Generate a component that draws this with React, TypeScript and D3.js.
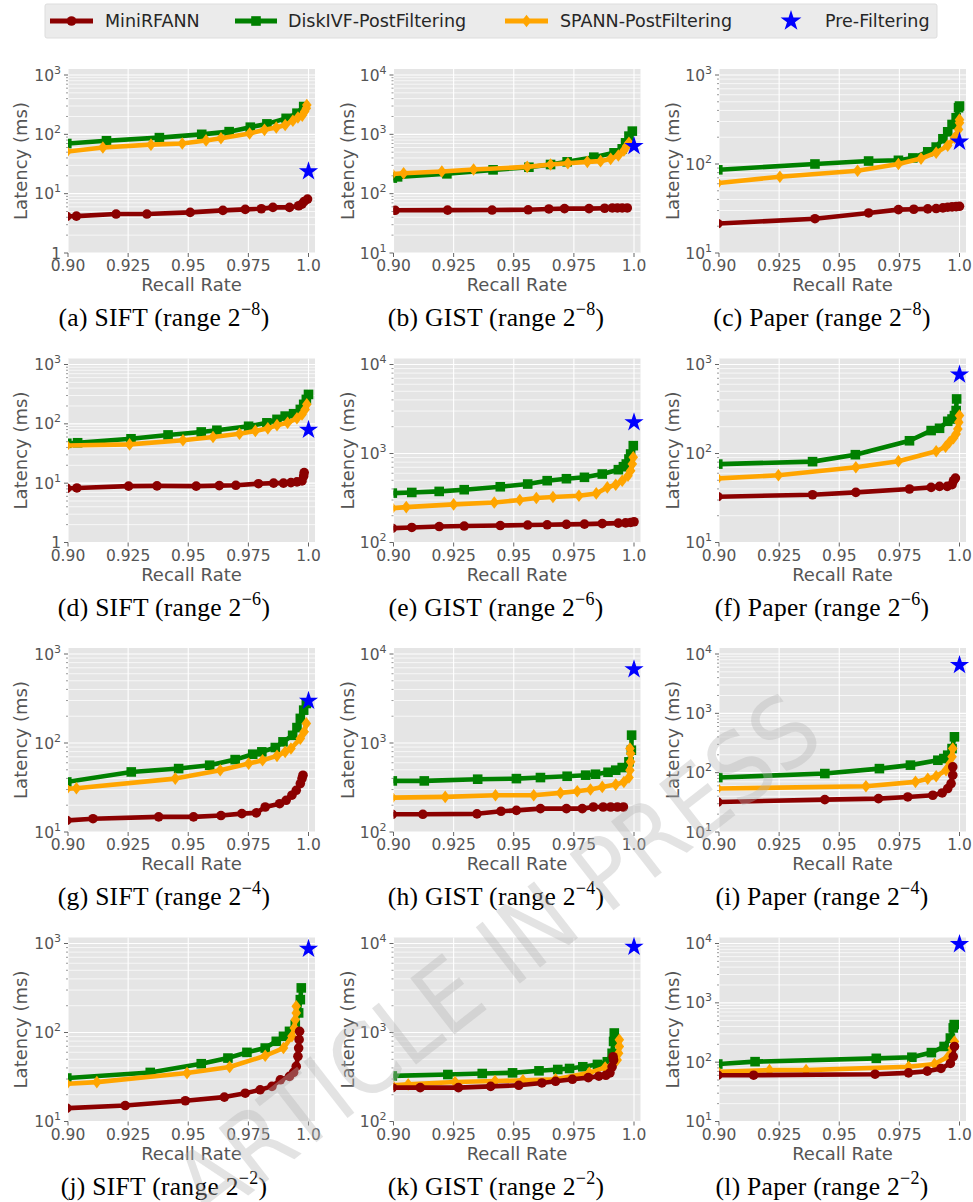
import React from "react";
import * as d3 from "d3";

type Pt = [number, number]; // [recall, latency ms]

// ---- (a) SIFT range 2^-8
const siftR8Mini: Pt[] = [[0.8995, 4.15], [0.9035, 4.19], [0.92, 4.53], [0.9328, 4.53], [0.9508, 4.83], [0.9644, 5.22], [0.9737, 5.43], [0.9804, 5.57], [0.9852, 5.87], [0.9921, 5.87], [0.9959, 6.26], [0.9973, 6.67], [0.9982, 7.4], [0.9996, 8.1]];
const siftR8Disk: Pt[] = [[0.8995, 70], [0.916, 78], [0.938, 88], [0.9556, 100], [0.967, 111], [0.9758, 132], [0.9827, 150], [0.9907, 186], [0.9952, 227], [0.998, 294]];
const siftR8Spann: Pt[] = [[0.8995, 51], [0.9145, 60], [0.9345, 67], [0.9475, 70], [0.9574, 79], [0.9636, 86], [0.9755, 103], [0.9817, 119], [0.9866, 130], [0.9903, 144], [0.9935, 169], [0.9956, 192], [0.9974, 207], [0.9984, 242], [0.9991, 275], [0.9993, 313]];
// ---- (b) GIST range 2^-8
const gistR8Mini: Pt[] = [[0.8995, 52.5], [0.9007, 52.5], [0.9225, 52.8], [0.941, 53], [0.956, 53.5], [0.9646, 55.3], [0.9711, 56], [0.9813, 56], [0.9878, 56.8], [0.991, 57.5], [0.9931, 57.5], [0.9951, 57.5], [0.9972, 57.5]];
const gistR8Disk: Pt[] = [[0.8995, 183], [0.9017, 192], [0.9222, 216], [0.9414, 252], [0.9563, 279], [0.9653, 310], [0.9722, 344], [0.9833, 412], [0.9917, 488], [0.9951, 570], [0.9965, 719], [0.9979, 933], [0.9993, 1132]];
const gistR8Spann: Pt[] = [[0.8995, 214], [0.9042, 221], [0.9201, 236], [0.9333, 255], [0.9556, 283], [0.9653, 310], [0.9725, 326], [0.9806, 344], [0.9861, 353], [0.9903, 386], [0.9935, 440], [0.9958, 534], [0.9969, 631], [0.9979, 719]];
// ---- (c) Paper range 2^-8
const paperR8Mini: Pt[] = [[0.8995, 21.4], [0.9399, 24.3], [0.9622, 28.2], [0.9746, 30.7], [0.981, 31], [0.9868, 31.3], [0.9903, 31.6], [0.9931, 32.1], [0.9951, 32.7], [0.9969, 33], [0.9986, 33.2], [1.0, 33.5]];
const paperR8Disk: Pt[] = [[0.8995, 86], [0.9399, 100], [0.9622, 108], [0.9746, 110], [0.9806, 117], [0.9868, 137], [0.9903, 155], [0.9931, 192], [0.9951, 230], [0.9969, 278], [0.9986, 331], [0.9996, 429], [1.0, 448]];
const paperR8Spann: Pt[] = [[0.8995, 61], [0.9253, 72], [0.9576, 84], [0.9746, 100], [0.984, 115], [0.9903, 134], [0.9951, 161], [0.9979, 197], [0.9996, 244], [1.0, 290], [1.0, 315]];
// ---- (d) SIFT range 2^-6
const siftR6Mini: Pt[] = [[0.8995, 8.2], [0.9037, 8.3], [0.9252, 8.9], [0.937, 9.0], [0.9533, 8.9], [0.9629, 9.1], [0.9698, 9.2], [0.9792, 9.8], [0.9855, 10.0], [0.9896, 10.0], [0.9927, 10.2], [0.9952, 10.5], [0.9973, 10.9], [0.998, 13.2], [0.9982, 15.1]];
const siftR6Disk: Pt[] = [[0.8995, 47], [0.904, 48], [0.9262, 56], [0.9416, 65], [0.9554, 73], [0.9619, 78], [0.9751, 91], [0.9827, 104], [0.9869, 119], [0.9903, 135], [0.9938, 148], [0.9966, 175], [0.998, 213], [0.9991, 258], [1.0, 313]];
const siftR6Spann: Pt[] = [[0.8995, 43], [0.9256, 45], [0.9478, 53], [0.9603, 60], [0.9713, 68], [0.9779, 76], [0.9831, 84], [0.9869, 95], [0.9913, 104], [0.9952, 124], [0.9973, 144], [0.9986, 175], [0.9993, 213]];
// ---- (e) GIST range 2^-6
const gistR6Mini: Pt[] = [[0.8995, 145], [0.9076, 147.5], [0.919, 151], [0.9294, 153], [0.9444, 155], [0.9558, 157], [0.9639, 158], [0.9719, 160], [0.9794, 161], [0.9868, 163], [0.9935, 165], [0.9965, 166], [0.9986, 168], [1.0, 171]];
const gistR6Disk: Pt[] = [[0.8995, 359], [0.9076, 365], [0.919, 375], [0.9294, 392], [0.9444, 423], [0.9558, 454], [0.9639, 495], [0.9719, 521], [0.9794, 540], [0.9868, 588], [0.9935, 658], [0.9956, 711], [0.9968, 762], [0.9979, 867], [0.9986, 987], [0.9997, 1225]];
const gistR6Spann: Pt[] = [[0.8995, 243], [0.9053, 250], [0.925, 268], [0.9419, 282], [0.9525, 300], [0.9594, 316], [0.9663, 324], [0.9771, 335], [0.9843, 356], [0.9889, 416], [0.9924, 446], [0.9951, 495], [0.9975, 563], [0.9986, 641], [0.9993, 762], [0.9997, 906]];
// ---- (f) Paper range 2^-6
const paperR6Mini: Pt[] = [[0.8995, 32.7], [0.9389, 34.4], [0.9569, 36.6], [0.9792, 39.9], [0.9882, 41.6], [0.9917, 42.7], [0.9949, 42.7], [0.9969, 44.6], [0.9975, 49.4], [0.9983, 53]];
const paperR6Disk: Pt[] = [[0.8995, 76], [0.9389, 81], [0.9567, 97], [0.9792, 139], [0.9882, 181], [0.9917, 192], [0.9951, 230], [0.9969, 244], [0.9979, 267], [0.9986, 304], [0.9988, 410]];
const paperR6Spann: Pt[] = [[0.8995, 52.5], [0.9247, 57], [0.9569, 70], [0.9746, 82], [0.9903, 106], [0.9942, 119], [0.9958, 134], [0.9975, 149], [0.9986, 166], [0.9993, 189], [0.9997, 224], [1.0, 267]];
// ---- (g) SIFT range 2^-4
const siftR4Mini: Pt[] = [[0.8995, 13.5], [0.9104, 14.1], [0.9377, 14.8], [0.9522, 14.8], [0.9636, 15.3], [0.9723, 16.1], [0.9783, 16.4], [0.982, 19.1], [0.988, 20.8], [0.9907, 22.7], [0.9931, 25.9], [0.9949, 29.4], [0.9966, 35], [0.9973, 39.8], [0.9977, 43.4]];
const siftR4Disk: Pt[] = [[0.8995, 36.5], [0.9263, 47.3], [0.946, 51.6], [0.9589, 56.3], [0.9695, 65.1], [0.9768, 74.8], [0.9806, 79.5], [0.9862, 89], [0.9894, 103], [0.9934, 122], [0.9952, 149], [0.9966, 189], [0.998, 234], [0.9991, 278]];
const siftR4Spann: Pt[] = [[0.8995, 30.5], [0.9035, 31], [0.9446, 39.8], [0.9633, 49.4], [0.9751, 58.7], [0.9809, 64.1], [0.9869, 71.7], [0.9903, 79.5], [0.9927, 86.8], [0.9966, 112], [0.9982, 134], [0.9991, 166]];
// ---- (h) GIST range 2^-4
const gistR4Mini: Pt[] = [[0.8995, 158], [0.9122, 158], [0.9347, 160], [0.9447, 171], [0.9511, 175], [0.9611, 183], [0.9719, 183], [0.9785, 183], [0.9831, 191], [0.9872, 191], [0.9903, 191], [0.9931, 191], [0.9956, 191]];
const gistR4Disk: Pt[] = [[0.8995, 375], [0.9128, 375], [0.935, 392], [0.9511, 398], [0.9611, 409], [0.9722, 423], [0.9799, 435], [0.984, 446], [0.9892, 469], [0.9924, 495], [0.9951, 530], [0.9979, 614], [0.9989, 830], [0.999, 1225]];
const gistR4Spann: Pt[] = [[0.8995, 243], [0.9215, 248], [0.9424, 259], [0.9583, 259], [0.9694, 275], [0.9764, 287], [0.9819, 300], [0.9868, 321], [0.9924, 341], [0.9958, 365], [0.9979, 409], [0.9983, 495], [0.9986, 614], [0.9986, 762], [0.9983, 867]];
// ---- (i) Paper range 2^-4
const paperR4Mini: Pt[] = [[0.8995, 32], [0.944, 35.1], [0.9663, 36.5], [0.9785, 39], [0.9889, 41.6], [0.9928, 45.5], [0.9951, 54], [0.9965, 65.5], [0.9972, 90.6], [0.9972, 125]];
const paperR4Disk: Pt[] = [[0.8995, 82.6], [0.944, 96.6], [0.9667, 117], [0.9796, 134], [0.991, 162], [0.9935, 173], [0.9951, 197], [0.9969, 255], [0.9979, 402]];
const paperR4Spann: Pt[] = [[0.8995, 54], [0.9611, 59], [0.9817, 70], [0.9868, 79], [0.9903, 87], [0.9944, 110], [0.9961, 143], [0.9969, 185], [0.9972, 255]];
// ---- (j) SIFT range 2^-2
const siftR2Mini: Pt[] = [[0.8995, 14.1], [0.9238, 15.1], [0.9488, 17.1], [0.965, 18.8], [0.9737, 20.8], [0.9799, 22.7], [0.9848, 24.8], [0.9883, 29.4], [0.9921, 32.1], [0.9938, 35.6], [0.9949, 41.6], [0.9956, 54], [0.9959, 66.9], [0.9961, 83], [0.9963, 103]];
const siftR2Disk: Pt[] = [[0.8995, 30.8], [0.9342, 35.6], [0.9554, 44.6], [0.9665, 51.6], [0.9744, 59.8], [0.982, 66.9], [0.9866, 79.6], [0.9896, 90.6], [0.9921, 103], [0.9945, 122], [0.9959, 166], [0.9966, 234], [0.997, 317]];
const siftR2Spann: Pt[] = [[0.8995, 26.5], [0.912, 27.7], [0.9495, 35], [0.9672, 40.9], [0.982, 54.8], [0.9896, 66.9], [0.9931, 90.6], [0.9941, 112], [0.9945, 139], [0.9949, 166], [0.9949, 197]];
// ---- (k) GIST range 2^-2
const gistR2Mini: Pt[] = [[0.8995, 240], [0.9111, 240], [0.927, 240], [0.9404, 248], [0.9521, 255], [0.9617, 271], [0.9674, 283], [0.9744, 298], [0.981, 311], [0.9854, 323], [0.9883, 331], [0.99, 352], [0.9909, 412], [0.9915, 491], [0.9913, 535]];
const gistR2Disk: Pt[] = [[0.8995, 325], [0.9226, 337], [0.9369, 346], [0.9495, 352], [0.9605, 371], [0.9683, 384], [0.9732, 394], [0.9787, 412], [0.9848, 438], [0.9889, 469], [0.9909, 584], [0.9915, 793], [0.9918, 987]];
const gistR2Spann: Pt[] = [[0.8995, 255], [0.9061, 261], [0.9256, 278], [0.9422, 285], [0.9538, 290], [0.9674, 298], [0.9814, 352], [0.988, 405], [0.9909, 430], [0.993, 491], [0.9936, 584], [0.9939, 695], [0.9939, 828]];
// ---- (l) Paper range 2^-2
const paperR2Mini: Pt[] = [[0.8995, 60.3], [0.9144, 60.3], [0.9649, 62.7], [0.9788, 66], [0.9866, 70.5], [0.9923, 78.3], [0.9962, 95.3], [0.9974, 124], [0.9979, 184]];
const paperR2Disk: Pt[] = [[0.8995, 93], [0.915, 102], [0.9654, 116], [0.9802, 121], [0.9883, 145], [0.9936, 184], [0.9962, 255], [0.9974, 378], [0.9978, 430]];
const paperR2Spann: Pt[] = [[0.8995, 68.7], [0.921, 73.3], [0.9362, 73.3], [0.9788, 83.5], [0.9896, 93], [0.9953, 124], [0.997, 172], [0.9979, 223]];

// Pre-Filtering single points, panel order a..l
const preFilter: Pt[] = [[1.0, 23.7], [1.0, 632], [1.0, 178], [1.0, 79], [1.0, 2244], [1.0, 771], [1.0, 298], [1.0, 6720], [1.0, 6510], [1.0, 871], [1.0, 9160], [1.0, 9720]];

const panelLetters = ["a", "b", "c", "d", "e", "f", "g", "h", "i", "j", "k", "l"];
const datasets = ["SIFT", "GIST", "Paper"];
const rangeExps = ["−8", "−6", "−4", "−2"];
const yDomains: [number, number][] = [[1, 1e3], [10, 1e4], [10, 1e3], [1, 1e3], [100, 1e4], [10, 1e3], [10, 1e3], [100, 1e4], [10, 1e4], [10, 1e3], [100, 1e4], [10, 1e4]];
const xTicks = [0.9, 0.925, 0.95, 0.975, 1.0];
const xTickLabels = ["0.90", "0.925", "0.95", "0.975", "1.0"];

const miniSeries = [siftR8Mini, gistR8Mini, paperR8Mini, siftR6Mini, gistR6Mini, paperR6Mini, siftR4Mini, gistR4Mini, paperR4Mini, siftR2Mini, gistR2Mini, paperR2Mini];
const diskSeries = [siftR8Disk, gistR8Disk, paperR8Disk, siftR6Disk, gistR6Disk, paperR6Disk, siftR4Disk, gistR4Disk, paperR4Disk, siftR2Disk, gistR2Disk, paperR2Disk];
const spannSeries = [siftR8Spann, gistR8Spann, paperR8Spann, siftR6Spann, gistR6Spann, paperR6Spann, siftR4Spann, gistR4Spann, paperR4Spann, siftR2Spann, gistR2Spann, paperR2Spann];

const RED = "#8B0000", GREEN = "#008000", ORANGE = "#FFA500", BLUE = "#0000FF";
const TICK = "#555555";
const SANS = "DejaVu Sans, sans-serif";
const SERIF = "Liberation Serif, serif";

const W = 247, H = 184;
const colLeft = [68, 393.5, 719];
const rowTop = [69, 358.5, 648, 937.5];
const captionX = [164, 496, 822];

const starPath = d3.symbol(d3.symbolStar, 115)()!;
const starPathBig = d3.symbol(d3.symbolStar, 135)()!;

function Marker({ kind, x, y, color }: { kind: string; x: number; y: number; color: string }) {
  if (kind === "o") return <circle cx={x} cy={y} r={4.8} fill={color} />;
  if (kind === "s") return <rect x={x - 4.8} y={y - 4.8} width={9.6} height={9.6} fill={color} />;
  return <path d={`M${x},${y - 6.3} L${x + 4.8},${y} L${x},${y + 6.3} L${x - 4.8},${y} Z`} fill={color} />;
}

function Panel({ idx }: { idx: number }) {
  const col = idx % 3, row = Math.floor(idx / 3);
  const left = colLeft[col], top = rowTop[row];
  const [lo, hi] = yDomains[idx];
  const x = d3.scaleLinear().domain([0.9, 1.0027]).range([0, W]);
  const y = d3.scaleLog().domain([lo, hi]).range([H, 6]);
  const line = d3.line<Pt>().x(d => x(d[0])).y(d => y(d[1]));
  const majors: number[] = [];
  const minors: number[] = [];
  for (let e = Math.round(Math.log10(lo)); e <= Math.round(Math.log10(hi)); e++) {
    majors.push(Math.pow(10, e));
    for (let k = 2; k <= 9; k++) {
      const v = k * Math.pow(10, e);
      if (v < hi * 1.25) minors.push(v);
    }
  }
  const clipId = `clip-${idx}`;
  const series = [
    { data: diskSeries[idx], color: GREEN, kind: "s" },
    { data: spannSeries[idx], color: ORANGE, kind: "d" },
    { data: miniSeries[idx], color: RED, kind: "o" },
  ];
  const star = preFilter[idx];
  return (
    <g transform={`translate(${left},${top})`}>
      <defs>
        <clipPath id={clipId}><rect x={0} y={0} width={W} height={H} /></clipPath>
      </defs>
      <rect x={0} y={0} width={W} height={H} fill="#E5E5E5" />
      {minors.map((v, i) => y(v) > 0 && (
        <line key={"mn" + i} x1={0} x2={W} y1={y(v)} y2={y(v)} stroke="#ffffff" strokeWidth={0.7} />
      ))}
      {majors.map((v, i) => (
        <line key={"mj" + i} x1={0} x2={W} y1={y(v)} y2={y(v)} stroke="#ffffff" strokeWidth={1.1} />
      ))}
      {xTicks.map((v, i) => (
        <line key={"xg" + i} x1={x(v)} x2={x(v)} y1={0} y2={H} stroke="#ffffff" strokeWidth={1.1} />
      ))}
      {majors.map((v, i) => (
        <line key={"yt" + i} x1={-4} x2={0} y1={y(v)} y2={y(v)} stroke={TICK} strokeWidth={0.9} />
      ))}
      {minors.map((v, i) => y(v) > 0 && (
        <line key={"ym" + i} x1={-2} x2={0} y1={y(v)} y2={y(v)} stroke={TICK} strokeWidth={0.6} />
      ))}
      {xTicks.map((v, i) => (
        <line key={"xt" + i} x1={x(v)} x2={x(v)} y1={H} y2={H + 4} stroke={TICK} strokeWidth={0.9} />
      ))}
      <g clipPath={`url(#${clipId})`}>
        {series.map((s, si) => (
          <g key={si}>
            <path d={line(s.data) || ""} fill="none" stroke={s.color} strokeWidth={4.6} strokeLinejoin="round" />
            {s.data.map((d, i) => (
              <Marker key={i} kind={s.kind} x={x(d[0])} y={y(d[1])} color={s.color} />
            ))}
          </g>
        ))}
      </g>
      <path d={starPath} transform={`translate(${x(star[0])},${y(star[1])})`} fill={BLUE} />
      {majors.map((v, i) => {
        const e = Math.round(Math.log10(v));
        return (
          <text key={"yl" + i} x={-7} y={y(v) + 5.5} textAnchor="end" fontFamily={SANS} fontSize={15.5} fill={TICK}>
            {e === 0 ? "1" : (<><tspan>10</tspan><tspan dy={-7} fontSize={11}>{e}</tspan></>)}
          </text>
        );
      })}
      {xTickLabels.map((t, i) => (
        <text key={"xl" + i} x={x(xTicks[i])} y={H + 18} textAnchor="middle" fontFamily={SANS} fontSize={15.5} fill={TICK}>{t}</text>
      ))}
      <text x={W / 2} y={H + 38} textAnchor="middle" fontFamily={SANS} fontSize={18} fill={TICK}>Recall Rate</text>
      <text transform={`translate(${col === 0 ? -41 : -40},${H / 2}) rotate(-90)`} textAnchor="middle" fontFamily={SANS} fontSize={18} fill={TICK}>Latency (ms)</text>
      <text x={captionX[col] - left} y={257} textAnchor="middle" fontFamily={SERIF} fontSize={25.5} letterSpacing={0.3} fill="#000">
        <tspan>({panelLetters[idx]}) {datasets[col]} (range 2</tspan>
        <tspan dy={-11} fontSize={18}>{rangeExps[row]}</tspan>
        <tspan dy={11}>)</tspan>
      </text>
    </g>
  );
}

const legendItems = [
  { label: "MiniRFANN", color: RED, kind: "o", x0: 50, x1: 93, tx: 105 },
  { label: "DiskIVF-PostFiltering", color: GREEN, kind: "s", x0: 235, x1: 277, tx: 288 },
  { label: "SPANN-PostFiltering", color: ORANGE, kind: "d", x0: 505, x1: 548, tx: 560 },
  { label: "Pre-Filtering", color: BLUE, kind: "*", x0: 791, x1: 791, tx: 825 },
];

function Legend() {
  const cy = 21;
  return (
    <g>
      <rect x={45} y={4} width={892} height={34} fill="#EBEBEB" stroke="#DDDDDD" strokeWidth={1} rx={2} />
      {legendItems.map((it, i) => (
        <g key={i}>
          {it.kind === "*" ? (
            <path d={starPathBig} transform={`translate(${it.x0},${cy})`} fill={BLUE} />
          ) : (
            <>
              <line x1={it.x0} x2={it.x1} y1={cy} y2={cy} stroke={it.color} strokeWidth={5} />
              <Marker kind={it.kind} x={(it.x0 + it.x1) / 2} y={cy} color={it.color} />
            </>
          )}
          <text x={it.tx} y={cy + 6} fontFamily={SANS} fontSize={17.5} fill="#262626">{it.label}</text>
        </g>
      ))}
    </g>
  );
}

export default function App() {
  const panels = d3.range(12);
  return (
    <svg width={973} height={1202} style={{ position: "absolute", left: 0, top: 0, background: "#fff" }}>
      <rect width={973} height={1202} fill="#ffffff" />
      <Legend />
      {panels.map(i => <Panel key={i} idx={i} />)}
      <text transform="translate(497,958) rotate(-38)" textAnchor="middle" y={34} fontFamily={SANS} fontSize={98}
        textLength={785} lengthAdjust="spacingAndGlyphs" fill="#b5b5b5" fillOpacity={0.38}>ARTICLE IN PRESS</text>
    </svg>
  );
}
